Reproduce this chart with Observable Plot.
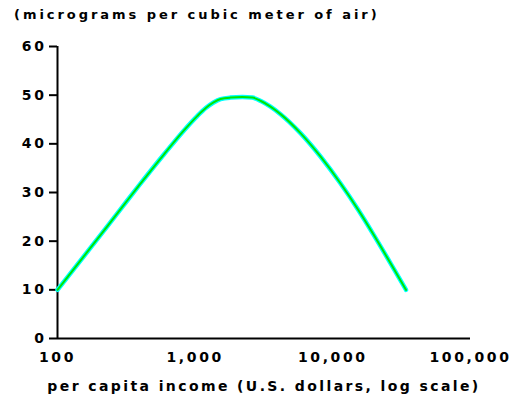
<!DOCTYPE html>
<html>
<head>
<meta charset="utf-8">
<script src="https://cdn.jsdelivr.net/npm/d3@7"></script>
<script src="https://cdn.jsdelivr.net/npm/@observablehq/plot@0.6"></script>
<style>
  body { margin: 0; background: #fff; }
  #title { font-family: "DejaVu Sans", sans-serif; font-weight: bold; font-size: 13px; letter-spacing: 2.95px; line-height: 16px; height: 30px; box-sizing: border-box; padding: 7px 0 0 14px; color: #000; white-space: nowrap; }
</style>
</head>
<body>
<div id="title">(micrograms per cubic meter of air)</div>
<div id="chart"></div>
<script>
const incomes = [100, 169, 295, 390, 592, 826, 1035, 1200, 1360, 1530, 1800, 2200, 2600, 3000, 3500, 4170, 5820, 8130, 11350, 15400, 19800, 26200, 34000];
const concentrations = [10, 18.2, 27.0, 31.4, 37.8, 42.7, 45.7, 47.4, 48.5, 49.2, 49.5, 49.6, 49.5, 48.8, 47.7, 46.1, 42.2, 37.4, 31.9, 26.3, 21.3, 15.5, 10];
const xTicks = [100, 1000, 10000, 100000];
const yTicks = [0, 10, 20, 30, 40, 50, 60];
const xLabel = "per capita income (U.S. dollars, log scale)";

const data = incomes.map((x, i) => ({income: x, conc: concentrations[i]}));

const chart = Plot.plot({
  width: 516,
  height: 367,
  marginTop: 16,
  marginBottom: 59,
  marginLeft: 57,
  marginRight: 46,
  style: {fontFamily: "DejaVu Sans, sans-serif", fontWeight: "bold", fontSize: "14px", letterSpacing: "2.6px", color: "#000", background: "#fff"},
  x: {type: "log", domain: [100, 100000]},
  y: {domain: [0, 60]},
  marks: [
    Plot.axisY({ticks: yTicks, tickSize: 8, tickPadding: 3, strokeWidth: 2, label: null, fontSize: 14}),
    Plot.axisX({ticks: xTicks, tickSize: 0, tickPadding: 14, tickFormat: d3.format(","), label: xLabel, labelAnchor: "center", labelArrow: "none", labelOffset: 52, fontSize: 14}),
    Plot.ruleX([100], {y1: 0, y2: 60, strokeWidth: 2}),
    Plot.ruleY([0], {x1: 100, x2: 100000, strokeWidth: 2}),
    Plot.line(data, {x: "income", y: "conc", stroke: "#00ffff", strokeWidth: 4.5, curve: "monotone-x"}),
    Plot.line(data, {x: "income", y: "conc", stroke: "#00e600", strokeWidth: 2, curve: "monotone-x"})
  ]
});
d3.select(chart).selectAll("[aria-label='x-axis label'] text").style("letter-spacing", "2.4px");
document.getElementById("chart").appendChild(chart);
</script>
</body>
</html>
